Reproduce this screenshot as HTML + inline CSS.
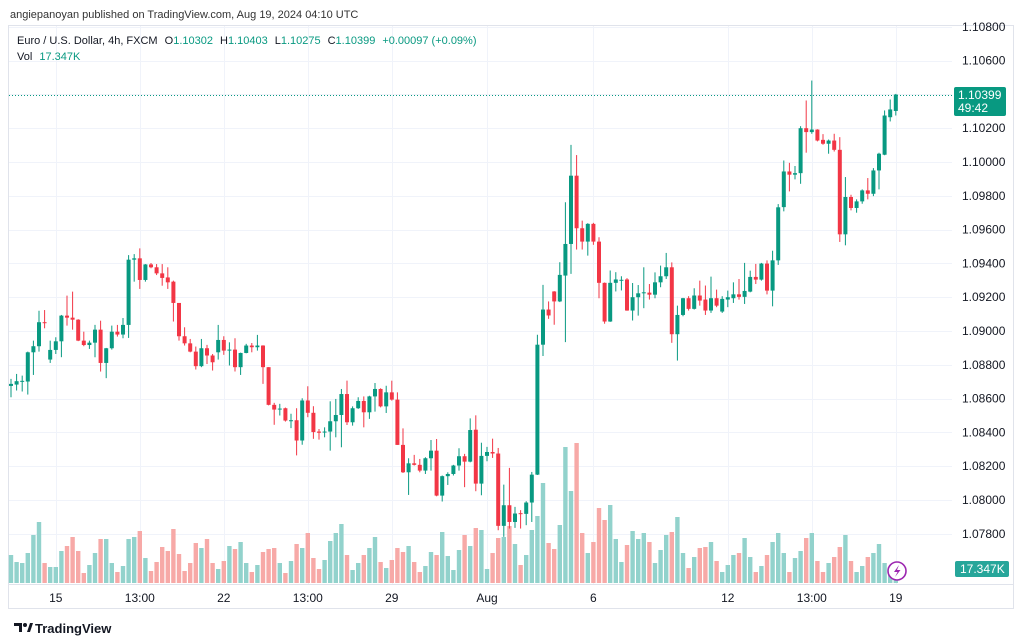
<!DOCTYPE html>
<html><head><meta charset="utf-8"><style>
html,body{margin:0;padding:0;background:#fff;}
svg{display:block;font-family:"Liberation Sans",sans-serif;}
</style></head><body>
<svg id="chart" width="1024" height="643" viewBox="0 0 1024 643" xmlns="http://www.w3.org/2000/svg">
<text x="10" y="18" font-size="11" fill="#333">angiepanoyan published on TradingView.com, Aug 19, 2024 04:10 UTC</text>
<rect x="8.5" y="25.5" width="1005" height="583" fill="none" stroke="#e0e3eb"/>
<line x1="9" y1="584.5" x2="1013" y2="584.5" stroke="#e0e3eb"/>
<g id="grid"></g>
<g id="vols"></g>
<g id="candles"></g>
<g id="yaxis"></g>
<g id="xaxis"></g>
<line id="lastline" x1="9" x2="952" stroke="#089981" stroke-width="1" stroke-dasharray="1 2"/>
<g>
<rect id="lastbox" x="954" y="86" width="52" height="29" rx="2" fill="#089981"/>
<text id="lasttext" x="958" y="99" font-size="12" fill="#fff">1.10399</text>
<text x="958" y="112" font-size="12" fill="#fff">49:42</text>
</g>
<g>
<rect x="955" y="561" width="54" height="16" rx="2" fill="#26a69a"/>
<text x="960" y="573" font-size="12" fill="#fff">17.347K</text>
</g>
<g font-size="11">
<text x="17" y="44" fill="#131722">Euro / U.S. Dollar, 4h, FXCM  <tspan fill="#131722" dx="4">O</tspan><tspan fill="#089981">1.10302</tspan><tspan fill="#131722" dx="7">H</tspan><tspan fill="#089981">1.10403</tspan><tspan fill="#131722" dx="7">L</tspan><tspan fill="#089981">1.10275</tspan><tspan fill="#131722" dx="7">C</tspan><tspan fill="#089981">1.10399</tspan><tspan fill="#089981" dx="7">+0.00097 (+0.09%)</tspan></text>
<text x="17" y="60" fill="#131722">Vol <tspan fill="#089981" dx="4">17.347K</tspan></text>
</g>
<g>
<circle cx="897" cy="571" r="9" fill="#fff" stroke="#9c27b0" stroke-width="1.6"/>
<path d="M899 565 L894 572 L897.5 572 L895 577 L900.5 570 L897 570 Z" fill="#9c27b0"/>
</g>
<g>
<path d="M14 623 h8 v9 h-3 v-6 h-5 z" fill="#131722"/>
<circle cx="25" cy="625" r="2" fill="#131722"/>
<path d="M27 632 l3 -9 h3 l-3 9 z" fill="#131722"/>
<text x="35" y="633" font-size="13" font-weight="bold" fill="#131722">TradingView</text>
</g>
</svg>
<script>
const O=[1.08675,1.08683,1.08700,1.08701,1.08874,1.08910,1.09052,1.08831,1.08888,1.08939,1.09091,1.09079,1.09067,1.08943,1.08917,1.08931,1.09008,1.08811,1.08898,1.08996,1.08979,1.09036,1.09422,1.09430,1.09302,1.09394,1.09377,1.09341,1.09317,1.09292,1.09166,1.08969,1.08927,1.08878,1.08792,1.08898,1.08855,1.08874,1.08947,1.08886,1.08890,1.08786,1.08870,1.08914,1.08904,1.08914,1.08786,1.08563,1.08535,1.08543,1.08470,1.08472,1.08352,1.08589,1.08516,1.08405,1.08400,1.08405,1.08466,1.08503,1.08627,1.08460,1.08543,1.08586,1.08519,1.08613,1.08657,1.08554,1.08637,1.08594,1.08326,1.08164,1.08217,1.08208,1.08174,1.08247,1.08292,1.08026,1.08141,1.08154,1.08204,1.08259,1.08227,1.08416,1.08097,1.08261,1.08284,1.08275,1.07847,1.07969,1.07870,1.07922,1.07918,1.07985,1.08150,1.08919,1.09127,1.09234,1.09175,1.09328,1.09515,1.09919,1.09608,1.09529,1.09634,1.09529,1.09285,1.09056,1.09285,1.09300,1.09305,1.09121,1.09200,1.09223,1.09227,1.09215,1.09288,1.09324,1.09377,1.08981,1.09095,1.09194,1.09131,1.09210,1.09186,1.09121,1.09194,1.09115,1.09186,1.09194,1.09217,1.09202,1.09233,1.09320,1.09304,1.09399,1.09239,1.09418,1.09733,1.09944,1.09925,1.09934,1.10200,1.10177,1.10192,1.10131,1.10108,1.10127,1.10072,1.09572,1.09793,1.09728,1.09767,1.09832,1.09812,1.09950,1.10043,1.10265,1.10302];
const H=[1.08717,1.08746,1.08736,1.08878,1.08943,1.09120,1.09124,1.08943,1.08963,1.09095,1.09209,1.09233,1.09070,1.08996,1.08943,1.09036,1.09061,1.08900,1.09032,1.09036,1.09077,1.09449,1.09455,1.09489,1.09396,1.09402,1.09396,1.09396,1.09377,1.09298,1.09166,1.09022,1.08953,1.08908,1.08953,1.08918,1.08864,1.09036,1.08969,1.08933,1.08957,1.08872,1.08924,1.08929,1.08977,1.08916,1.08786,1.08575,1.08569,1.08547,1.08510,1.08543,1.08602,1.08673,1.08555,1.08420,1.08430,1.08584,1.08598,1.08657,1.08706,1.08554,1.08608,1.08613,1.08617,1.08692,1.08661,1.08676,1.08706,1.08637,1.08424,1.08247,1.08267,1.08243,1.08253,1.08355,1.08361,1.08145,1.08164,1.08208,1.08306,1.08273,1.08483,1.08501,1.08339,1.08314,1.08363,1.08308,1.08091,1.08190,1.07959,1.07940,1.07993,1.08166,1.08978,1.09273,1.09175,1.09236,1.09407,1.09762,1.10101,1.10041,1.09653,1.09638,1.09640,1.09555,1.09287,1.09358,1.09348,1.09324,1.09313,1.09284,1.09272,1.09377,1.09278,1.09347,1.09387,1.09462,1.09406,1.09150,1.09196,1.09206,1.09253,1.09298,1.09269,1.09322,1.09245,1.09206,1.09239,1.09288,1.09308,1.09403,1.09357,1.09397,1.09403,1.09418,1.09475,1.09751,1.10009,1.09995,1.09976,1.10212,1.10364,1.10482,1.10194,1.10165,1.10133,1.10167,1.10147,1.09911,1.09806,1.09779,1.09838,1.09905,1.09964,1.10055,1.10305,1.10370,1.10403];
const L=[1.08608,1.08648,1.08642,1.08624,1.08740,1.08878,1.09016,1.08811,1.08864,1.08845,1.09032,1.09008,1.08940,1.08910,1.08894,1.08845,1.08760,1.08721,1.08890,1.08967,1.08957,1.08959,1.09292,1.09249,1.09292,1.09371,1.09331,1.09268,1.09249,1.09056,1.08943,1.08914,1.08874,1.08772,1.08786,1.08805,1.08766,1.08831,1.08859,1.08796,1.08760,1.08740,1.08868,1.08874,1.08884,1.08687,1.08560,1.08445,1.08500,1.08464,1.08425,1.08264,1.08327,1.08490,1.08362,1.08357,1.08371,1.08292,1.08371,1.08312,1.08444,1.08440,1.08539,1.08430,1.08480,1.08523,1.08548,1.08515,1.08588,1.08326,1.08160,1.08030,1.08204,1.08164,1.08154,1.08174,1.08022,1.07991,1.08089,1.08145,1.08174,1.08076,1.08223,1.08052,1.08028,1.08229,1.08249,1.07821,1.07782,1.07831,1.07835,1.07831,1.07851,1.07870,1.08148,1.08852,1.09072,1.09037,1.09171,1.08934,1.09338,1.09482,1.09482,1.09446,1.09510,1.09194,1.09043,1.09054,1.09234,1.09240,1.09120,1.09062,1.09091,1.09135,1.09186,1.09194,1.09259,1.09308,1.08930,1.08825,1.09087,1.09121,1.09127,1.09150,1.09095,1.09107,1.09141,1.09107,1.09141,1.09166,1.09186,1.09160,1.09229,1.09278,1.09298,1.09217,1.09146,1.09391,1.09708,1.09826,1.09897,1.09871,1.10055,1.10167,1.10122,1.10102,1.10049,1.10062,1.09527,1.09507,1.09714,1.09700,1.09753,1.09779,1.09798,1.09838,1.10040,1.10240,1.10275];
const C=[1.08687,1.08703,1.08705,1.08874,1.08910,1.09052,1.09048,1.08888,1.08939,1.09091,1.09079,1.09067,1.08943,1.08917,1.08931,1.09008,1.08811,1.08898,1.08996,1.08979,1.09036,1.09422,1.09430,1.09302,1.09394,1.09377,1.09341,1.09314,1.09288,1.09166,1.08969,1.08927,1.08878,1.08792,1.08898,1.08855,1.08815,1.08947,1.08884,1.08890,1.08786,1.08870,1.08914,1.08904,1.08914,1.08786,1.08563,1.08535,1.08541,1.08470,1.08472,1.08352,1.08589,1.08516,1.08402,1.08398,1.08405,1.08466,1.08503,1.08627,1.08460,1.08543,1.08586,1.08519,1.08613,1.08657,1.08554,1.08637,1.08594,1.08326,1.08164,1.08217,1.08208,1.08174,1.08247,1.08292,1.08026,1.08141,1.08154,1.08204,1.08259,1.08227,1.08414,1.08097,1.08261,1.08284,1.08275,1.07847,1.07969,1.07870,1.07920,1.07918,1.07985,1.08150,1.08919,1.09127,1.09092,1.09175,1.09332,1.09515,1.09919,1.09608,1.09529,1.09634,1.09529,1.09285,1.09056,1.09285,1.09305,1.09303,1.09121,1.09200,1.09223,1.09229,1.09215,1.09288,1.09324,1.09377,1.08981,1.09095,1.09194,1.09131,1.09210,1.09180,1.09121,1.09194,1.09150,1.09190,1.09200,1.09217,1.09202,1.09237,1.09320,1.09304,1.09399,1.09239,1.09418,1.09732,1.09944,1.09925,1.09934,1.10200,1.10177,1.10192,1.10127,1.10108,1.10127,1.10072,1.09572,1.09793,1.09728,1.09767,1.09832,1.09812,1.09950,1.10049,1.10275,1.10311,1.10399];
const VOL=[28,21,20,30,48,61,20,16,16,32,37,46,32,10,18,30,44,44,20,11,17,44,46,52,25,12,21,36,32,54,29,12,20,40,35,44,20,14,22,37,34,41,20,11,18,31,34,35,20,10,22,39,35,50,25,14,23,42,50,59,28,13,20,28,35,46,21,15,23,35,31,37,21,11,17,31,28,51,27,13,33,48,37,55,53,14,30,45,46,57,39,18,28,53,67,100,40,34,58,136,92,140,50,30,41,75,63,78,44,21,38,52,44,50,41,20,33,48,51,66,30,15,26,35,36,41,22,11,18,28,30,45,26,11,17,28,41,50,30,11,25,32,45,50,22,11,20,26,36,48,22,11,17,26,30,39,20,14,17.347];
const PRICE_TICKS=[1.078,1.080,1.082,1.084,1.086,1.088,1.090,1.092,1.094,1.096,1.098,1.100,1.102,1.104,1.106,1.108];
const TIME_TICK_IDX=[8,23,38,53,68,85,104,128,143,158];
const TIME_TICK_LABELS=["15","13:00","22","13:00","29","Aug","6","12","13:00","19"];
const LAST_PRICE=1.10399;

const NS="http://www.w3.org/2000/svg";
const yS=p=>162+(1.1-p)*16900;
const xS=i=>11+i*5.6;
const vS=v=>583-v*1.0;
function mk(t,a,parent){const e=document.createElementNS(NS,t);for(const k in a)e.setAttribute(k,a[k]);parent.appendChild(e);return e;}
const grid=document.getElementById('grid'),yax=document.getElementById('yaxis'),xax=document.getElementById('xaxis');
PRICE_TICKS.forEach(p=>{
  const y=Math.round(yS(p))+0.5;
  if(y>26&&y<584){
    const g=mk('line',{x1:9,x2:952,y1:y,y2:y,stroke:'#f0f3fa'},grid);
    
    
  }
  if(Math.abs(p-1.104)>1e-6){
    const t=mk('text',{x:962,y:yS(p)+4,'font-size':12,fill:'#131722'},yax);
    
    
    t.textContent=p.toFixed(5);
  }
});
TIME_TICK_IDX.forEach((ix,k)=>{
  const x=Math.round(xS(ix))+0.5;
  const g=mk('line',{x1:x,x2:x,y1:26,y2:584,stroke:'#f0f3fa'},grid);
  
  
  const t=mk('text',{x:xS(ix),y:602,'font-size':12,fill:'#131722','text-anchor':'middle'},xax);
  
  
  t.textContent=TIME_TICK_LABELS[k];
});
const vg=document.getElementById('vols'),cg=document.getElementById('candles');
VOL.forEach((v,i)=>{
  const up=C[i]>=O[i];
  const r=mk('rect',{x:xS(i)-2.2,y:vS(v),width:4.4,height:583-vS(v),fill:up?'#92d2cc':'#f7a9a7'},vg);
  
  
});
O.forEach((o,i)=>{
  const c=C[i],up=c>=o,col=up?'#089981':'#f23645';
  const x=xS(i);
  const w=mk('line',{x1:x,x2:x,y1:yS(H[i]),y2:yS(L[i]),stroke:col,'stroke-width':1},cg);
  
  
  const top=yS(Math.max(o,c)),bot=yS(Math.min(o,c));
  const b=mk('rect',{x:x-2,y:top,width:4,height:Math.max(1,bot-top),fill:col},cg);
  
  
});
const ly=Math.round(yS(LAST_PRICE))+0.5;
const ll=document.getElementById('lastline');ll.setAttribute('y1',ly);ll.setAttribute('y2',ly);
document.getElementById('lastbox').setAttribute('y',ly-8.5);
</script>
</body></html>
